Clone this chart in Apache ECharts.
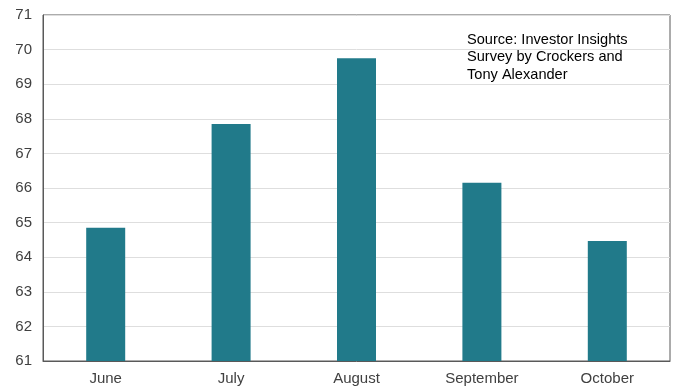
<!DOCTYPE html>
<html>
<head>
<meta charset="utf-8">
<script src="https://cdn.jsdelivr.net/npm/echarts@6/dist/echarts.min.js"></script>
<style>
  html, body { margin: 0; padding: 0; background: #fff; }
  #chart { width: 677px; height: 389px; }
</style>
</head>
<body>
<div id="chart"></div>
<script>
// Monthly index readings
const months = ['June', 'July', 'August', 'September', 'October'];
const indexValues = [64.85, 67.85, 69.75, 66.15, 64.47];
const sourceNote = 'Source: Investor Insights\nSurvey by Crockers and\nTony Alexander';

const chart = echarts.init(document.getElementById('chart'));
chart.setOption({
  animation: false,
  textStyle: { fontFamily: 'Liberation Sans, Arial, sans-serif' },
  grid: {
    left: 43, right: 7, top: 15, bottom: 28,
    show: true, borderColor: '#595959', borderWidth: 1,
    backgroundColor: 'transparent'
  },
  graphic: [{
    type: 'text',
    left: 467, top: 31,
    style: {
      text: sourceNote,
      font: '14.6px "Liberation Sans", Arial, sans-serif',
      fill: '#000',
      lineHeight: 17.5
    }
  }],
  xAxis: {
    type: 'category',
    data: months,
    axisLine: { show: true, lineStyle: { color: '#595959' } },
    axisTick: { show: false },
    axisLabel: { color: '#404040', fontSize: 15, margin: 10 }
  },
  yAxis: {
    type: 'value',
    min: 61, max: 71, interval: 1,
    axisLine: { show: true, lineStyle: { color: '#595959' } },
    axisTick: { show: false },
    axisLabel: { color: '#404040', fontSize: 15, margin: 11 },
    splitLine: { lineStyle: { color: '#dedede', width: 1 } }
  },
  series: [{
    type: 'bar',
    data: indexValues,
    barWidth: 39,
    itemStyle: { color: '#217a8a' }
  }]
});
</script>
</body>
</html>
